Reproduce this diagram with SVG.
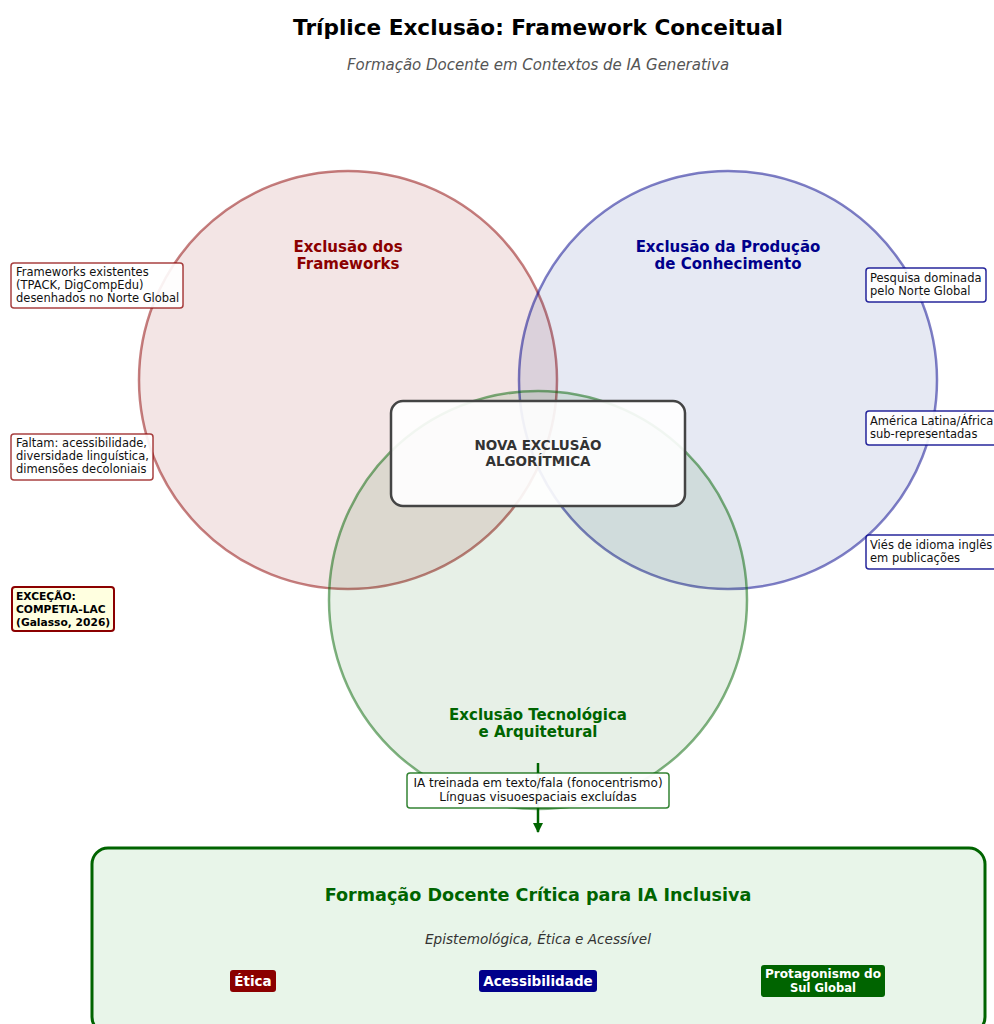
<svg xmlns="http://www.w3.org/2000/svg" width="994" height="1024" viewBox="0 0 994 1024">
<defs>
<marker id="arr" viewBox="0 0 10 10" refX="9" refY="5" markerWidth="4" markerHeight="4" orient="auto" markerUnits="strokeWidth"><path d="M0,0 L10,5 L0,10 z" fill="#006400"/></marker>
<style>
text{font-family:"DejaVu Sans","Liberation Sans",sans-serif;text-anchor:middle}
.ann{font-size:11.5px;fill:#111;text-anchor:start}
.exc{font-size:10.7px;font-weight:bold;fill:#000;text-anchor:start}
.lab{font-size:15px;font-weight:bold}
.badge{font-size:13.5px;font-weight:bold;fill:#fff}
.badge2{font-size:12px;font-weight:bold;fill:#fff}
</style>
</defs>
<rect width="994" height="1024" fill="#fff"/>
<text x="538" y="35" font-size="21.6" font-weight="bold" fill="#000">Tríplice Exclusão: Framework Conceitual</text>
<text x="538" y="70" font-size="15" font-style="italic" fill="#555">Formação Docente em Contextos de IA Generativa</text>

<g id="circle-frameworks">
<circle cx="348" cy="380" r="209" fill="#8B0000" fill-opacity="0.1" stroke="#8B0000" stroke-opacity="0.5" stroke-width="2.5"/>
</g>
<g id="circle-producao">
<circle cx="728" cy="380" r="209" fill="#052387" fill-opacity="0.1" stroke="#00008B" stroke-opacity="0.5" stroke-width="2.5"/>
</g>
<g id="circle-tecnologica">
<circle cx="538" cy="600" r="209" fill="#006400" fill-opacity="0.095" stroke="#006400" stroke-opacity="0.5" stroke-width="2.5"/>
</g>
<g id="labels">
<text class="lab" x="348" y="252" fill="#8B0000">Exclusão dos</text>
<text class="lab" x="348" y="269" fill="#8B0000">Frameworks</text>
<text class="lab" x="728" y="252" fill="#00008B">Exclusão da Produção</text>
<text class="lab" x="728" y="269" fill="#00008B">de Conhecimento</text>
<text class="lab" x="538" y="720" fill="#006400">Exclusão Tecnológica</text>
<text class="lab" x="538" y="737" fill="#006400">e Arquitetural</text>
</g>

<g id="nova-exclusao">
<rect x="391" y="401" width="294" height="105" rx="12" fill="#fff" fill-opacity="0.9" stroke="#444" stroke-width="2.5"/>
<text x="538" y="450" font-size="13.5" font-weight="bold" fill="#333">NOVA EXCLUSÃO</text>
<text x="538" y="466" font-size="13.5" font-weight="bold" fill="#333">ALGORÍTMICA</text>
</g>

<g id="connectors">
<line x1="538" y1="763" x2="538" y2="832" stroke="#006400" stroke-width="2.5" marker-end="url(#arr)"/>
</g>

<g id="ann-frameworks-existentes">
<rect x="11" y="263" width="172" height="45" rx="3" fill="#fff" fill-opacity="0.9" stroke="#8B0000" stroke-opacity="0.75" stroke-width="1.5"/>
<text class="ann" x="16" y="276">Frameworks existentes</text>
<text class="ann" x="16" y="289">(TPACK, DigCompEdu)</text>
<text class="ann" x="16" y="302">desenhados no Norte Global</text>
</g>
<g id="ann-faltam">
<rect x="11" y="434" width="142" height="46" rx="3" fill="#fff" fill-opacity="0.9" stroke="#8B0000" stroke-opacity="0.75" stroke-width="1.5"/>
<text class="ann" x="16" y="447">Faltam: acessibilidade,</text>
<text class="ann" x="16" y="460">diversidade linguística,</text>
<text class="ann" x="16" y="473">dimensões decoloniais</text>
</g>
<g id="ann-excecao">
<rect x="12" y="587" width="102" height="44" rx="3" fill="#FFFFE0" stroke="#8B0000" stroke-width="2"/>
<text class="exc" x="16" y="600">EXCEÇÃO:</text>
<text class="exc" x="16" y="613">COMPETIA-LAC</text>
<text class="exc" x="16" y="626">(Galasso, 2026)</text>
</g>
<g id="ann-pesquisa">
<rect x="866" y="268" width="120" height="34" rx="3" fill="#fff" fill-opacity="0.9" stroke="#00008B" stroke-opacity="0.85" stroke-width="1.5"/>
<text class="ann" x="870" y="282">Pesquisa dominada</text>
<text class="ann" x="870" y="295">pelo Norte Global</text>
</g>
<g id="ann-america">
<rect x="866" y="411" width="135" height="34" rx="3" fill="#fff" fill-opacity="0.9" stroke="#00008B" stroke-opacity="0.85" stroke-width="1.5"/>
<text class="ann" x="870" y="425">América Latina/África</text>
<text class="ann" x="870" y="438">sub-representadas</text>
</g>
<g id="ann-vies">
<rect x="866" y="535" width="135" height="34" rx="3" fill="#fff" fill-opacity="0.9" stroke="#00008B" stroke-opacity="0.85" stroke-width="1.5"/>
<text class="ann" x="870" y="549">Viés de idioma inglês</text>
<text class="ann" x="870" y="562">em publicações</text>
</g>
<g id="ann-ia-treinada">
<rect x="407" y="773" width="262" height="35" rx="3" fill="#fff" fill-opacity="0.95" stroke="#006400" stroke-opacity="0.8" stroke-width="1.5"/>
<text x="538" y="787" font-size="12" fill="#111">IA treinada em texto/fala (fonocentrismo)</text>
<text x="538" y="801" font-size="12" fill="#111">Línguas visuoespaciais excluídas</text>
</g>

<g id="formacao-docente">
<rect x="92" y="848" width="893" height="185" rx="16" fill="#E8F5E9" stroke="#006400" stroke-width="3"/>
<text x="538" y="901" font-size="17.6" font-weight="bold" fill="#006400">Formação Docente Crítica para IA Inclusiva</text>
<text x="538" y="944" font-size="13.6" font-style="italic" fill="#333">Epistemológica, Ética e Acessível</text>
</g>
<g id="badge-etica">
<rect x="230" y="970" width="46" height="22" rx="3" fill="#8B0000"/>
<text class="badge" x="253" y="986">Ética</text>
</g>
<g id="badge-acessibilidade">
<rect x="479" y="970" width="118" height="22" rx="3" fill="#00008B"/>
<text class="badge" x="538" y="986">Acessibilidade</text>
</g>
<g id="badge-protagonismo">
<rect x="761" y="965" width="124" height="32" rx="3" fill="#006400"/>
<text class="badge2" x="823" y="978" textLength="116" lengthAdjust="spacingAndGlyphs">Protagonismo do</text>
<text class="badge2" x="823" y="992" textLength="66" lengthAdjust="spacingAndGlyphs">Sul Global</text>
</g>
</svg>
